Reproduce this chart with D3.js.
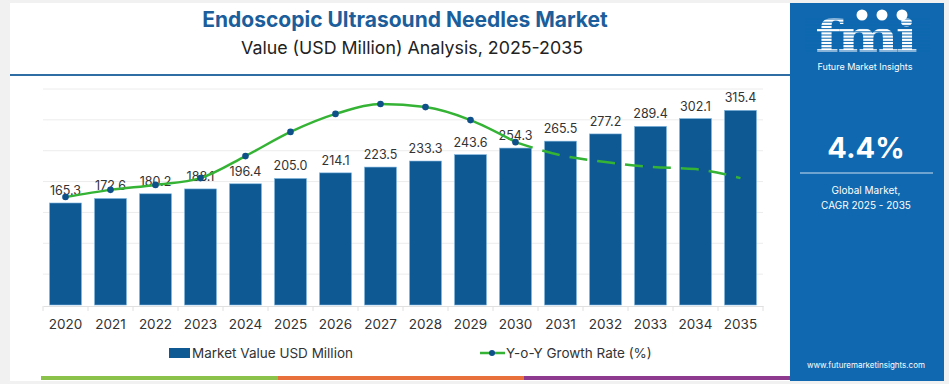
<!DOCTYPE html>
<html>
<head>
<meta charset="utf-8">
<script src="https://cdn.jsdelivr.net/npm/d3@7"></script>
<style>
  html, body { margin: 0; padding: 0; background: #f1f1f1; }
  svg { display: block; font-family: "Inter", "Open Sans", sans-serif; }
</style>
</head>
<body>
<svg id="chart"></svg>
<script>
const width = 949;
const height = 384;

// data
const years = ["2020","2021","2022","2023","2024","2025","2026","2027","2028","2029","2030","2031","2032","2033","2034","2035"];
const marketValue = [165.3,172.6,180.2,188.1,196.4,205.0,214.1,223.5,233.3,243.6,254.3,265.5,277.2,289.4,302.1,315.4];
// y-o-y growth, only the shape of the line is shown (no axis)
const growth = [3.00,3.23,3.39,3.61,4.32,5.10,5.68,6.00,5.90,5.48,4.77,4.35,4.13,3.97,3.90,3.61];
const lastActual = "2030";
const yTicks = [0,50,100,150,200,250,300,350];
const stripColors = ["#8bc34a","#e8703a","#8e3a8e"];

var svg = d3.select("#chart")
    .attr("width", width)
    .attr("height", height)
    .attr("viewBox", `0 0 ${width} ${height}`);

// white card + blue side panel
svg.append("rect").attr("x", 10).attr("y", 3).attr("width", 782).attr("height", 378).attr("fill", "#fff");
svg.append("rect").attr("x", 790).attr("y", 3).attr("width", 154).attr("height", 378).attr("fill", "#0f68b0");

// titles
svg.append("text").attr("x", 405).attr("y", 27).attr("text-anchor", "middle")
    .attr("font-size", 21).attr("font-weight", 700).attr("fill", "#1b5e9b")
    .text("Endoscopic Ultrasound Needles Market");
svg.append("text").attr("x", 412).attr("y", 54).attr("text-anchor", "middle")
    .attr("font-size", 17.8).attr("fill", "#222")
    .text("Value (USD Million) Analysis, 2025-2035");
svg.append("line").attr("x1", 10).attr("x2", 790).attr("y1", 75).attr("y2", 75)
    .attr("stroke", "#2f6ea5").attr("stroke-width", 2);

// scales
var x = d3.scaleBand().domain(years).range([43, 763]).paddingInner(0.29).paddingOuter(0.145);
var y = d3.scaleLinear().domain([0, 350]).range([305, 89]);
var yG = d3.scaleLinear().domain([3.0, 6.0]).range([197, 104]);

// grid
svg.append("g").selectAll("line").data(yTicks.slice(1)).enter().append("line")
    .attr("x1", 43).attr("x2", 763)
    .attr("y1", d => y(d)).attr("y2", d => y(d))
    .attr("stroke", "#ececec");

// x axis
var xAxis = svg.append("g").attr("transform", "translate(0,306)")
    .call(d3.axisBottom(x).tickSize(0).tickPadding(13));
xAxis.select(".domain").attr("stroke", "#e0e0e0");
xAxis.selectAll("text").attr("font-size", 13.5).attr("fill", "#333").attr("font-family", "Inter, sans-serif");
xAxis.selectAll(".sep").data(d3.range(years.length + 1)).enter().append("line")
    .attr("x1", i => 43 + i * x.step()).attr("x2", i => 43 + i * x.step())
    .attr("y1", 0).attr("y2", 5).attr("stroke", "#e0e0e0");

// bars
svg.append("g").selectAll("rect").data(years).enter().append("rect")
    .attr("x", d => x(d))
    .attr("width", x.bandwidth())
    .attr("y", (d, i) => y(marketValue[i]))
    .attr("height", (d, i) => y(0) - y(marketValue[i]))
    .attr("fill", "#0e5893")
    .attr("stroke", "#7fb6e0").attr("stroke-width", 0.6);

svg.append("g").selectAll("text").data(years).enter().append("text")
    .attr("x", d => x(d) + x.bandwidth() / 2)
    .attr("y", (d, i) => y(marketValue[i]) - 8)
    .attr("text-anchor", "middle")
    .attr("font-size", 12.5).attr("fill", "#333")
    .text((d, i) => marketValue[i].toFixed(1));

// growth line
var pts = years.map((d, i) => ({ year: d, v: growth[i] }));
var cut = years.indexOf(lastActual);
var line = d3.line()
    .x(d => x(d.year) + x.bandwidth() / 2)
    .y(d => yG(d.v))
    .curve(d3.curveMonotoneX);

svg.append("path").datum(pts.slice(0, cut + 1))
    .attr("d", line).attr("fill", "none")
    .attr("stroke", "#35b335").attr("stroke-width", 2.5);
svg.append("path").datum(pts.slice(cut))
    .attr("d", line).attr("fill", "none")
    .attr("stroke", "#35b335").attr("stroke-width", 2.5)
    .attr("stroke-dasharray", "18,10");
svg.append("g").selectAll("circle").data(pts.slice(0, cut + 1)).enter().append("circle")
    .attr("cx", d => x(d.year) + x.bandwidth() / 2)
    .attr("cy", d => yG(d.v))
    .attr("r", 3.3).attr("fill", "#0f4f8a");

// legend
var lg = svg.append("g").attr("font-size", 13.5).attr("fill", "#333");
lg.append("rect").attr("x", 169).attr("y", 348).attr("width", 21).attr("height", 10).attr("fill", "#0e5893");
lg.append("text").attr("x", 192).attr("y", 358).text("Market Value USD Million");
lg.append("line").attr("x1", 480).attr("x2", 505).attr("y1", 353).attr("y2", 353)
    .attr("stroke", "#35b335").attr("stroke-width", 2.5);
lg.append("circle").attr("cx", 492).attr("cy", 353).attr("r", 3).attr("fill", "#0f4f8a");
lg.append("text").attr("x", 506).attr("y", 358).text("Y-o-Y Growth Rate (%)");

// bottom colour strip
var stripX = [41, 278, 524, 790];
svg.append("g").selectAll("rect").data(stripColors).enter().append("rect")
    .attr("x", (d, i) => stripX[i]).attr("width", (d, i) => stripX[i + 1] - stripX[i])
    .attr("y", 376).attr("height", 4).attr("fill", d => d);

// side panel content
var p = svg.append("g").attr("fill", "#fff").attr("text-anchor", "middle");
p.append("text").attr("transform", "translate(865,52) scale(1.45,1.1)")
    .attr("font-size", 40).attr("font-weight", 700)
    .attr("font-family", "DejaVu Serif, serif").attr("letter-spacing", -2).text("fmi");
// stripes across the logo
p.append("g").selectAll("line").data(d3.range(19, 53, 3.2)).enter().append("line")
    .attr("x1", 805).attr("x2", 930).attr("y1", d => d).attr("y2", d => d)
    .attr("stroke", "#0f68b0").attr("stroke-width", 1);
[862, 882, 902].forEach(cx => {
  p.append("circle").attr("cx", cx).attr("cy", 15).attr("r", 5.5).attr("fill", "#fff");
});
p.append("text").attr("x", 865).attr("y", 70).attr("font-size", 9).text("Future Market Insights");
p.append("text").attr("x", 866).attr("y", 158).attr("font-size", 29).attr("font-weight", 700).text("4.4%");
p.append("line").attr("x1", 800).attr("x2", 933).attr("y1", 173).attr("y2", 173)
    .attr("stroke", "#fff").attr("stroke-width", 1.2).attr("opacity", 0.8);
p.append("text").attr("x", 866).attr("y", 194).attr("font-size", 10).text("Global Market,");
p.append("text").attr("x", 866).attr("y", 209).attr("font-size", 10).text("CAGR 2025 - 2035");
p.append("text").attr("x", 866).attr("y", 368).attr("font-size", 8).text("www.futuremarketinsights.com");
</script>
</body>
</html>
